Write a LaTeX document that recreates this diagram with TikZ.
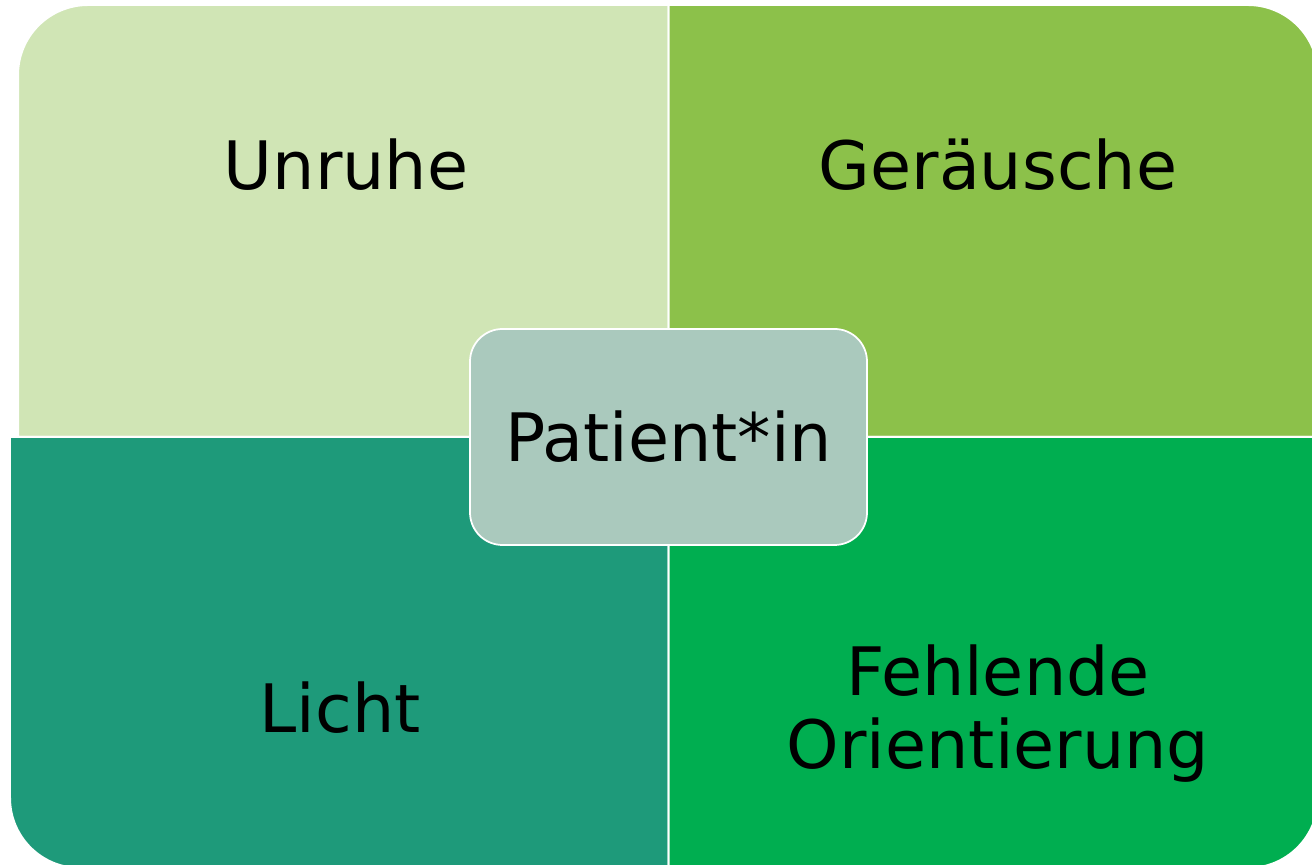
\documentclass[tikz,border=0pt]{standalone}
\usepackage{fontspec}
\setmainfont{DejaVu Sans}
\usepackage{xcolor}
\usepackage{tikz}
\usetikzlibrary{positioning}

\definecolor{paleG}{HTML}{D0E5B5}
\definecolor{limeG}{HTML}{8CC14A}
\definecolor{tealG}{HTML}{1E9A7A}
\definecolor{deepG}{HTML}{00AE50}
\definecolor{hubG}{HTML}{AAC9BD}

\begin{document}
\begin{tikzpicture}[font=\fontsize{38}{41.5}\selectfont,
  quad/.style={draw=white,line width=0.04cm},
  hub/.style={draw=white,line width=0.035cm,fill=hubG,rounded corners=0.65cm,
    minimum width=7.94cm,minimum height=4.32cm,inner sep=0pt},
  lbl/.style={text=black,align=center,inner sep=0pt}]
\useasboundingbox (0,0) rectangle (26.24,17.3);
\clip (0,0) rectangle (26.24,17.3);
% four quadrants, one rounded outer corner each
\fill[quad,fill=paleG] (0.36,8.56) [rounded corners=1.4cm] -- (0.36,17.2) [sharp corners] -- (13.37,17.2) -- (13.37,8.56) -- cycle;
\fill[quad,fill=limeG] (13.37,17.2) [rounded corners=1.4cm] -- (26.36,17.2) [sharp corners] -- (26.36,8.56) -- (13.37,8.56) -- cycle;
\fill[quad,fill=tealG] (13.37,-0.06) [rounded corners=1.4cm] -- (0.2,-0.06) [sharp corners] -- (0.2,8.56) -- (13.37,8.56) -- cycle;
\fill[quad,fill=deepG] (26.36,8.56) [rounded corners=1.4cm] -- (26.36,-0.06) [sharp corners] -- (13.37,-0.06) -- (13.37,8.56) -- cycle;
\node[lbl,anchor=base] (unruhe) at (6.92,13.5) {Unruhe};
\node[lbl,anchor=base] (geraeusche) at (19.96,13.5) {Geräusche};
\node[lbl,anchor=base] (licht) at (6.8,2.64) {Licht};
\node[lbl] (orient) at (19.96,3.02) {Fehlende\\Orientierung};
% centre
\node[hub,lbl] (patient) at (13.37,8.56) {Patient*in};
\end{tikzpicture}
\end{document}
